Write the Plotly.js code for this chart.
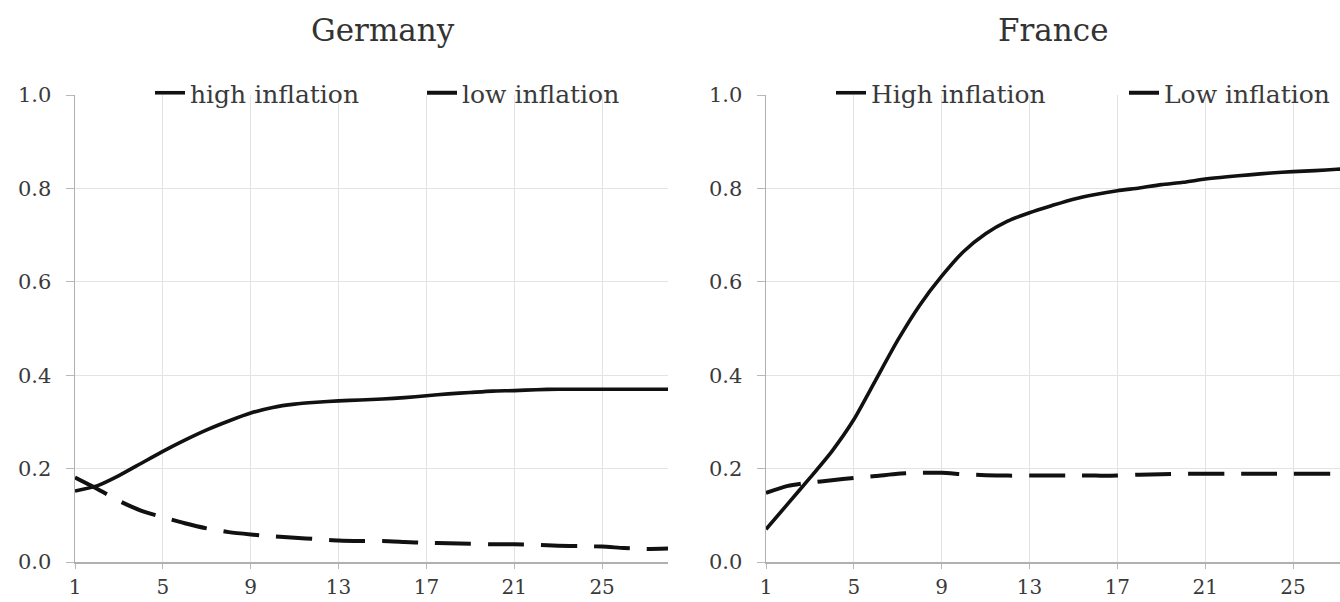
<!DOCTYPE html>
<html>
<head>
<meta charset="utf-8">
<script src="https://cdn.plot.ly/plotly-3.0.1.min.js"></script>
<style>
  html, body { margin: 0; padding: 0; background: #fff; overflow: hidden; }
  #chart { width: 1340px; height: 602px; }
</style>
</head>
<body>
<div id="chart"></div>
<script>
// ---- Data ----
const periods = [1,2,3,4,5,6,7,8,9,10,11,12,13,14,15,16,17,18,19,20,21,22,23,24,25,26,27,28];

const germanyHigh = [0.152,0.163,0.185,0.211,0.237,0.261,0.283,0.302,0.319,0.331,0.338,0.342,0.345,0.347,0.349,0.352,0.356,0.360,0.363,0.366,0.367,0.369,0.370,0.370,0.370,0.370,0.370,0.370];
const germanyLow  = [0.181,0.157,0.131,0.110,0.096,0.083,0.072,0.064,0.059,0.055,0.052,0.049,0.046,0.045,0.045,0.043,0.041,0.040,0.039,0.038,0.038,0.037,0.035,0.034,0.033,0.030,0.028,0.029];

const franceHigh = [0.070,0.125,0.180,0.237,0.305,0.390,0.475,0.550,0.612,0.665,0.703,0.730,0.748,0.763,0.777,0.787,0.795,0.801,0.808,0.813,0.820,0.825,0.829,0.833,0.836,0.838,0.841,0.843];
const franceLow  = [0.148,0.163,0.170,0.175,0.180,0.184,0.189,0.191,0.191,0.188,0.186,0.185,0.185,0.185,0.185,0.185,0.185,0.187,0.188,0.189,0.189,0.189,0.189,0.189,0.189,0.189,0.189,0.189];

const germanyNames = ["high inflation", "low inflation"];
const franceNames  = ["High inflation", "Low inflation"];
const panelTitles  = ["Germany", "France"];

const xTickVals = [1,5,9,13,17,21,25];
const yTickVals = [0,0.2,0.4,0.6,0.8,1.0];
const yTickText = ["0.0","0.2","0.4","0.6","0.8","1.0"];

// ---- Styling ----
const W = 1340, H = 602;
const FONT = "DejaVu Serif";
const solid = {color: "#111", width: 3.6, shape: "spline", smoothing: 0.6};
const dashed = {color: "#111", width: 4, dash: "36px,17px", shape: "spline", smoothing: 0.6};

const traces = [
  {x: periods, y: germanyHigh, name: germanyNames[0], type: "scatter", mode: "lines", line: solid, xaxis: "x", yaxis: "y", legend: "legend"},
  {x: periods, y: germanyLow,  name: germanyNames[1], type: "scatter", mode: "lines", line: dashed, xaxis: "x", yaxis: "y", legend: "legend"},
  {x: periods, y: franceHigh,  name: franceNames[0], type: "scatter", mode: "lines", line: solid, xaxis: "x2", yaxis: "y2", legend: "legend2"},
  {x: periods, y: franceLow,   name: franceNames[1], type: "scatter", mode: "lines", line: dashed, xaxis: "x2", yaxis: "y2", legend: "legend2"}
];

const yDom = [(H - 562) / H, (H - 95) / H];

function xAxis(domain, range, anchor) {
  return {
    domain: domain, range: range, anchor: anchor,
    tickvals: xTickVals, ticks: "outside", ticklen: 5, tickcolor: "#b8b8b8",
    showgrid: true, gridcolor: "#e3e3e3", gridwidth: 1,
    showline: true, linecolor: "#b0b0b0", linewidth: 1.5,
    zeroline: false, ticklabelstandoff: 1,
    tickfont: {family: FONT, size: 20, color: "#3a3a3a"}
  };
}
function yAxis(anchor) {
  return {
    domain: yDom, range: [0, 1], anchor: anchor,
    tickvals: yTickVals, ticktext: yTickText, ticks: "outside", ticklen: 8, tickcolor: "#b8b8b8",
    showgrid: true, gridcolor: "#e3e3e3", gridwidth: 1,
    showline: true, linecolor: "#b0b0b0", linewidth: 1.5,
    zeroline: false, ticklabelstandoff: 10,
    tickfont: {family: FONT, size: 21, color: "#3a3a3a"}
  };
}

const legendFont = {family: FONT, size: 25, color: "#3a3a3a"};

const layout = {
  width: W, height: H,
  margin: {l: 0, r: 0, t: 0, b: 0, autoexpand: false},
  paper_bgcolor: "#fff", plot_bgcolor: "#fff",
  showlegend: true,
  xaxis: xAxis([75 / W, 668 / W], [1, 28], "y"),
  yaxis: yAxis("x"),
  xaxis2: xAxis([766 / W, 1], [1, 1 + (1340 - 766) / 21.96], "y2"),
  yaxis2: yAxis("x2"),
  legend: {
    orientation: "h", x: 150 / W, xanchor: "left", y: 1 - 93 / H, yanchor: "middle",
    bgcolor: "rgba(0,0,0,0)", borderwidth: 0, entrywidth: 227, entrywidthmode: "pixels",
    font: legendFont
  },
  legend2: {
    orientation: "h", x: 831 / W, xanchor: "left", y: 1 - 93 / H, yanchor: "middle",
    bgcolor: "rgba(0,0,0,0)", borderwidth: 0, entrywidth: 248, entrywidthmode: "pixels",
    font: legendFont
  },
  annotations: [
    {text: panelTitles[0], xref: "paper", yref: "paper", x: 383 / W, y: 1 - 30 / H, xanchor: "center", yanchor: "middle", showarrow: false, font: {family: FONT, size: 31, color: "#333"}},
    {text: panelTitles[1], xref: "paper", yref: "paper", x: 1053 / W, y: 1 - 30 / H, xanchor: "center", yanchor: "middle", showarrow: false, font: {family: FONT, size: 31, color: "#333"}}
  ]
};

Plotly.newPlot("chart", traces, layout, {staticPlot: true, displayModeBar: false});
</script>
</body>
</html>
